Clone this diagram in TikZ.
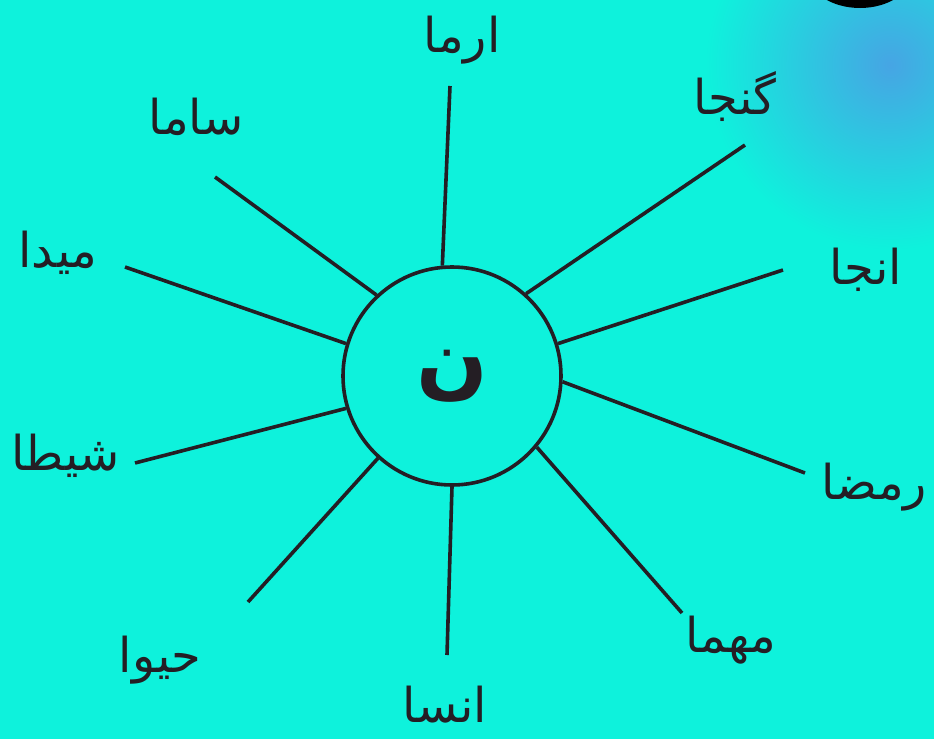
\documentclass[tikz,border=0pt]{standalone}
\usepackage{fontspec}
\newfontfamily\urdufont[Script=Arabic]{DejaVu Sans}
\TeXXeTstate=1
\definecolor{sea}{RGB}{14,242,220}
\definecolor{glow}{RGB}{70,165,228}
\definecolor{ink}{RGB}{36,30,36}
\tikzset{
  spoke/.style={ink,line width=1.8pt},
  word/.style={text=ink,font=\urdufont\fontsize{24}{28}\selectfont},
}
\begin{document}
\begin{tikzpicture}[x=0.5pt,y=-0.5pt]
  \fill[sea] (0,0) rectangle (934,739);
  \begin{scope}
    \clip (0,0) rectangle (934,739);
    \shade[inner color=glow,outer color=sea] (890,65) circle (185);
    \fill[black] (860,-27) ellipse (52 and 35);
  \end{scope}
  \useasboundingbox (0,0) rectangle (934,739);
  \node[circle,draw=ink,line width=1.8pt,minimum size=109pt,inner sep=0pt,
        text=ink,font=\urdufont\bfseries\fontsize{42}{48}\selectfont] (hub) at (452,376) {\beginR ن\endR};
  \coordinate (rayArma) at (450,86);
  \coordinate (rayGanja) at (745,145);
  \coordinate (rayAnja) at (783,270);
  \coordinate (rayRamza) at (805,473);
  \coordinate (rayMahma) at (682,613);
  \coordinate (rayInsa) at (447,655);
  \coordinate (rayHaiwa) at (248,602);
  \coordinate (rayShaita) at (135,463);
  \coordinate (rayMaida) at (125,267);
  \coordinate (raySama) at (215,177);
  \draw[spoke] (hub.95) -- (rayArma);
  \draw[spoke] (hub.48) -- (rayGanja);
  \draw[spoke] (hub.17) -- (rayAnja);
  \draw[spoke] (hub.-3) -- (rayRamza);
  \draw[spoke] (hub.-40) -- (rayMahma);
  \draw[spoke] (hub.-90) -- (rayInsa);
  \draw[spoke] (hub.-132) -- (rayHaiwa);
  \draw[spoke] (hub.197) -- (rayShaita);
  \draw[spoke] (hub.163) -- (rayMaida);
  \draw[spoke] (hub.133) -- (raySama);
  \node[word] (arma) at (462,40) {\beginR ارما\endR};
  \node[word] (ganja) at (735,97) {\beginR گنجا\endR};
  \node[word] (anja) at (866,270) {\beginR انجا\endR};
  \node[word,anchor=east] (ramza) at (934,487) {\beginR رمضا\endR};
  \node[word] (mahma) at (731,640) {\beginR مهما\endR};
  \node[word] (insa) at (445,705) {\beginR انسا\endR};
  \node[word] (haiwa) at (160,660) {\beginR حیوا\endR};
  \node[word,anchor=west] (shaita) at (4,456) {\beginR شیطا\endR};
  \node[word] (maida) at (58,253) {\beginR میدا\endR};
  \node[word] (sama) at (196,117) {\beginR ساما\endR};
\end{tikzpicture}
\end{document}
